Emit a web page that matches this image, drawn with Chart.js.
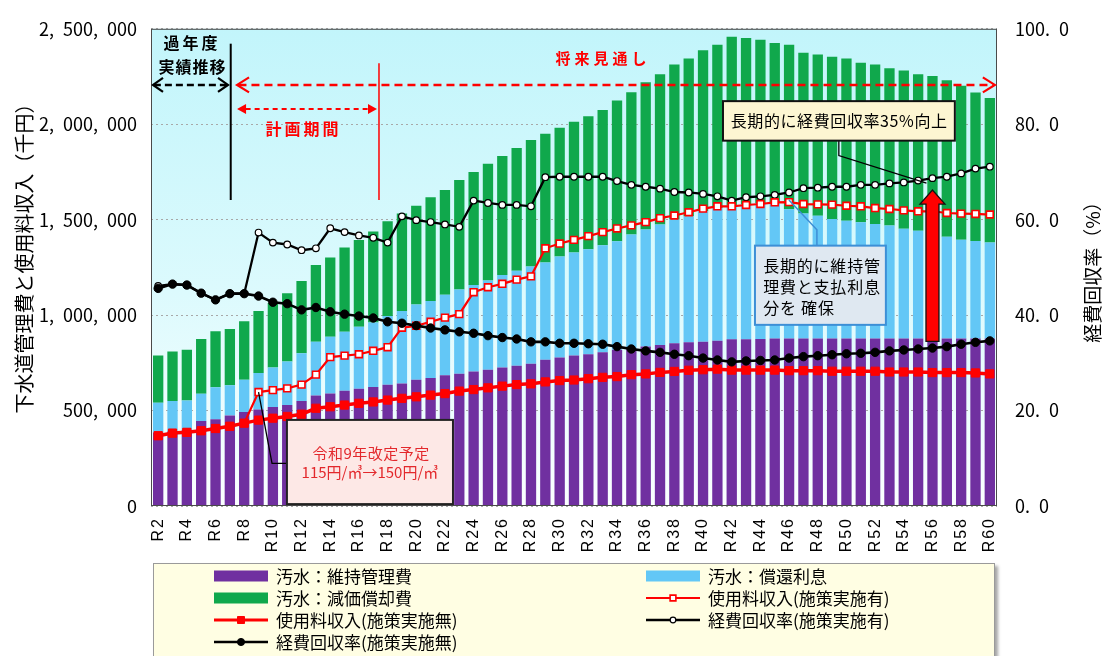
<!DOCTYPE html>
<html><head><meta charset="utf-8">
<script src="https://cdn.jsdelivr.net/npm/chart.js@4.4.1/dist/chart.umd.min.js"></script>
<style>html,body{margin:0;padding:0;background:#fff;}#wrap{width:1103px;height:656px;position:relative;overflow:hidden;}</style>
</head><body><div id="wrap"><canvas id="c" width="1103" height="656"></canvas></div>
<script>
const categories = ['R2','R3','R4','R5','R6','R7','R8','R9','R10','R11','R12','R13','R14','R15','R16','R17','R18','R19','R20','R21','R22','R23','R24','R25','R26','R27','R28','R29','R30','R31','R32','R33','R34','R35','R36','R37','R38','R39','R40','R41','R42','R43','R44','R45','R46','R47','R48','R49','R50','R51','R52','R53','R54','R55','R56','R57','R58','R59','R60'];
const xTickLabels = ['R2','R4','R6','R8','R10','R12','R14','R16','R18','R20','R22','R24','R26','R28','R30','R32','R34','R36','R38','R40','R42','R44','R46','R48','R50','R52','R54','R56','R58','R60'];
// 汚水：維持管理費（千円）
const maintenance = [385000,392000,398000,445000,455000,474000,492000,505000,519000,529000,
 550000,579000,590000,604000,614000,623000,635000,642000,662000,671000,
 685000,693000,705000,714000,726000,735000,745000,766000,778000,788000,
 795000,806000,818000,826000,835000,844000,852000,858000,861000,866000,
 873000,874000,875000,877000,877000,877000,877000,877000,877000,877000,
 877000,877000,877000,877000,877000,877000,877000,877000,877000];
// 汚水：償還利息
const interest = [156000,158000,155000,143000,167000,159000,170000,192000,207000,228000,
 250000,282000,297000,309000,325000,338000,361000,380000,393000,403000,
 422000,441000,453000,467000,484000,498000,510000,510000,529000,540000,
 550000,560000,569000,597000,614000,631000,649000,660000,683000,695000,
 700000,705000,712000,710000,678000,655000,643000,627000,617000,610000,
 600000,592000,576000,565000,552000,534000,518000,511000,503000];
// 汚水：減価償却費
const depreciation = [247000,259000,265000,287000,294000,294000,306000,325000,337000,358000,
 379000,401000,415000,441000,455000,477000,496000,510000,518000,543000,
 549000,574000,592000,612000,624000,643000,662000,674000,674000,685000,
 697000,709000,738000,745000,771000,787000,812000,827000,844000,856000,
 886000,873000,856000,839000,862000,842000,845000,849000,851000,835000,
 836000,824000,829000,820000,824000,819000,806000,778000,757000];
// 使用料収入(施策実施有)
const feeWithPolicy = [368000,382000,386000,394000,406000,418000,434000,597000,607000,616000,
 636000,688000,780000,788000,795000,813000,832000,934000,944000,965000,
 987000,1005000,1120000,1146000,1164000,1186000,1203000,1350000,1375000,1394000,
 1414000,1435000,1454000,1470000,1487000,1508000,1522000,1539000,1558000,1570000,
 1570000,1577000,1582000,1591000,1592000,1582000,1580000,1579000,1573000,1570000,
 1561000,1556000,1549000,1544000,1544000,1535000,1532000,1530000,1527000];
// 使用料収入(施策実施無)
const feeWithoutPolicy = [368000,382000,386000,394000,406000,418000,434000,450000,460000,469000,
 481000,512000,520000,529000,538000,545000,555000,564000,572000,581000,
 589000,602000,610000,619000,628000,636000,640000,650000,657000,660000,
 667000,674000,678000,688000,692000,700000,705000,711000,714000,717000,
 712000,712000,712000,712000,709000,709000,709000,706000,706000,706000,
 706000,702000,702000,702000,699000,699000,699000,697000,692000];
// 経費回収率(施策実施有) %
const recoveryWithPolicy = [46.1,46.5,46.3,44.6,43.2,44.5,44.5,57.3,55.2,54.8,
 53.6,54.0,58.2,57.4,56.7,56.2,55.2,60.7,59.9,59.5,
 59.0,58.5,64.0,63.5,63.1,63.1,62.8,68.9,69.0,69.0,
 69.0,69.0,68.1,67.3,66.9,66.5,65.8,65.7,65.4,64.9,
 64.0,64.7,64.9,65.2,65.7,66.6,66.7,66.9,66.9,67.3,
 67.3,67.6,67.8,68.2,68.7,69.0,69.7,70.7,71.1];
// 経費回収率(施策実施無) %
const recoveryWithoutPolicy = [45.6,46.5,46.3,44.6,43.2,44.5,44.5,44.0,42.7,42.4,
 41.1,41.6,40.7,40.2,39.8,39.4,38.6,38.3,37.8,37.3,
 36.9,36.5,36.2,35.7,35.3,35.0,34.4,34.4,34.1,34.1,
 34.0,33.9,33.4,32.9,32.5,32.2,31.8,31.5,31.0,30.6,
 30.2,30.4,30.5,30.6,31.0,31.3,31.5,31.7,31.9,32.0,
 32.2,32.5,32.7,32.9,33.1,33.4,33.9,34.3,34.6];
const leftTicks = [0,500000,1000000,1500000,2000000,2500000];
const rightTicks = [0,20,40,60,80,100];

const JP = "'Noto Sans CJK JP','Noto Sans',sans-serif";
const C = {purple:'#7030a0', blue:'#63c7f6', green:'#10a84c', red:'#ff0000', black:'#000000'};

function spaced(ctx, text, cx, cy, sp, align) {
  const ch = [...text];
  const w = ch.map(c => ctx.measureText(c).width);
  const total = w.reduce((a,b)=>a+b,0) + sp*(ch.length-1);
  let x = align === 'left' ? cx : (align === 'right' ? cx - total : cx - total/2);
  ctx.textAlign = 'left'; ctx.textBaseline = 'middle';
  ch.forEach((c,i)=>{ ctx.fillText(c, x, cy); x += w[i] + sp; });
}
function chevron(ctx, x, y, dir, len, half) {
  ctx.beginPath();
  ctx.moveTo(x + dir*len, y - half); ctx.lineTo(x, y); ctx.lineTo(x + dir*len, y + half);
  ctx.stroke();
}
function tri(ctx, x, y, dir, len, half) {
  ctx.beginPath();
  ctx.moveTo(x, y); ctx.lineTo(x + dir*len, y - half); ctx.lineTo(x + dir*len, y + half);
  ctx.closePath(); ctx.fill();
}

const deco = {
  id: 'deco',
  beforeDraw(chart) {
    const {ctx, chartArea: a} = chart;
    ctx.save();
    ctx.fillStyle = '#fff'; ctx.fillRect(0, 0, chart.width, chart.height);
    const g = ctx.createLinearGradient(0, a.top, 0, a.bottom);
    g.addColorStop(0, '#c2f5fb'); g.addColorStop(0.55, '#dcfafd'); g.addColorStop(1, '#fbffff');
    ctx.fillStyle = g; ctx.fillRect(a.left, a.top, a.right - a.left, a.bottom - a.top);
    ctx.restore();
  },
  afterDraw(chart) {
    const {ctx, chartArea: a} = chart;
    const xs = chart.scales.x, yl = chart.scales.yL, yr = chart.scales.yR;
    const X = i => xs.getPixelForValue(i);
    const YL = v => yl.getPixelForValue(v);
    const YR = v => yr.getPixelForValue(v);
    ctx.save();
    // plot border
    ctx.strokeStyle = '#4a4a4a'; ctx.lineWidth = 1;
    ctx.strokeRect(a.left + 0.5, a.top + 0.5, a.right - a.left - 1, a.bottom - a.top - 1);

    // x tick labels (rotated, letter-spaced)
    ctx.fillStyle = '#000'; ctx.font = "16px 'Liberation Sans',Arial,sans-serif";
    categories.forEach((c, i) => {
      if (!xTickLabels.includes(c)) return;
      ctx.save(); ctx.translate(X(i), a.bottom + 13); ctx.rotate(-Math.PI/2);
      spaced(ctx, c, 0, 0, 2, 'right'); ctx.restore();
    });

    // axis titles
    const midY = (a.top + a.bottom) / 2;
    ctx.fillStyle = '#000';
    ctx.save(); ctx.translate(24, midY - 14); ctx.rotate(-Math.PI/2);
    ctx.font = `20px ${JP}`; ctx.textAlign = 'center'; ctx.textBaseline = 'middle';
    ctx.fillText('下水道管理費と使用料収入（千円）', 0, 0); ctx.restore();
    ctx.save(); ctx.translate(1093, midY); ctx.rotate(-Math.PI/2);
    ctx.font = `19px ${JP}`; ctx.textAlign = 'center'; ctx.textBaseline = 'middle';
    ctx.fillText('経費回収率（%）', 0, 0); ctx.restore();

    // past / future labels
    ctx.fillStyle = '#000'; ctx.font = `bold 16px ${JP}`;
    spaced(ctx, '過年度', X(2.25), YL(2425000), 3);
    spaced(ctx, '実績推移', X(2.36), YL(2298000), 1);
    ctx.strokeStyle = '#000'; ctx.lineWidth = 2.5;
    const yArr = YL(2206000);
    ctx.setLineDash([7,4]);
    ctx.beginPath(); ctx.moveTo(X(-0.3), yArr); ctx.lineTo(X(4.85), yArr); ctx.stroke();
    ctx.setLineDash([]); ctx.lineWidth = 2.2;
    chevron(ctx, X(-0.36), yArr, 1, 10, 7); chevron(ctx, X(4.87), yArr, -1, 10, 7);
    ctx.lineWidth = 2;
    ctx.beginPath(); ctx.moveTo(X(5.06), YL(2422000)); ctx.lineTo(X(5.06), YL(1603000)); ctx.stroke();

    ctx.strokeStyle = C.red; ctx.fillStyle = C.red; ctx.lineWidth = 2.5;
    ctx.setLineDash([8,5]);
    ctx.beginPath(); ctx.moveTo(X(5.6), yArr); ctx.lineTo(X(58.25), yArr); ctx.stroke();
    ctx.setLineDash([]); ctx.lineWidth = 2.2;
    chevron(ctx, X(5.5), yArr, 1, 12, 7.5); chevron(ctx, X(58.35), yArr, -1, 12, 7.5);
    ctx.font = `bold 15px ${JP}`;
    spaced(ctx, '将来見通し', X(30.88), YL(2347000), 4);
    const yPlan = YL(2080000);
    ctx.lineWidth = 2; ctx.setLineDash([5,4]);
    ctx.beginPath(); ctx.moveTo(X(6.1), yPlan); ctx.lineTo(X(14.7), yPlan); ctx.stroke();
    ctx.setLineDash([]);
    tri(ctx, X(5.5), yPlan, 1, 9, 5); tri(ctx, X(15.26), yPlan, -1, 9, 5);
    ctx.font = `bold 16px ${JP}`;
    spaced(ctx, '計画期間', X(10.03), YL(1976000), 3);
    ctx.lineWidth = 1.5;
    ctx.beginPath(); ctx.moveTo(X(15.4), YL(2319000)); ctx.lineTo(X(15.4), YL(1603000)); ctx.stroke();

    // Box 1
    ctx.strokeStyle = '#000'; ctx.lineWidth = 1.3;
    ctx.beginPath(); ctx.moveTo(X(7), YL(feeWithPolicy[7])); ctx.lineTo(X(7.94), YL(223000)); ctx.lineTo(X(8.98), YL(223000)); ctx.stroke();
    let bx = X(8.98), by = YL(451000), bw = X(20.56) - bx, bh = YL(10000) - by;
    ctx.fillStyle = '#fde8e6'; ctx.fillRect(bx, by, bw, bh);
    ctx.strokeStyle = '#222'; ctx.lineWidth = 2; ctx.strokeRect(bx, by, bw, bh);
    ctx.fillStyle = '#e3282c'; ctx.font = `15px ${JP}`;
    spaced(ctx, '令和9年改定予定', X(14.84), YL(275000), 0.5);
    spaced(ctx, '115円/㎥→150円/㎥', X(14.77), YL(176000), 0);

    // Box 2
    ctx.strokeStyle = '#000'; ctx.lineWidth = 1.3;
    ctx.beginPath(); ctx.moveTo(X(47.47), YL(1914000)); ctx.lineTo(X(47.47), YL(1836000)); ctx.lineTo(X(53.58), YL(1691000)); ctx.stroke();
    bx = X(39.39); by = YL(2121000); bw = X(55.56) - bx; bh = YL(1914000) - by;
    ctx.fillStyle = '#fdf6d2'; ctx.fillRect(bx, by, bw, bh);
    ctx.strokeStyle = '#111'; ctx.lineWidth = 2; ctx.strokeRect(bx, by, bw, bh);
    ctx.fillStyle = '#000'; ctx.font = `16px ${JP}`;
    spaced(ctx, '長期的に経費回収率35%向上', X(47.47), YL(2018000), 0.6);

    // Box 3
    ctx.strokeStyle = '#3d8fd6'; ctx.lineWidth = 1.5;
    ctx.beginPath(); ctx.moveTo(X(43.99), YL(1603000)); ctx.lineTo(X(45.94), YL(1447000)); ctx.lineTo(X(45.94), YL(1364000)); ctx.stroke();
    bx = X(41.62); by = YL(1364000); bw = X(50.75) - bx; bh = YL(949000) - by;
    ctx.fillStyle = '#dfe8f1'; ctx.fillRect(bx, by, bw, bh);
    ctx.strokeStyle = '#3d8fd6'; ctx.lineWidth = 2; ctx.strokeRect(bx, by, bw, bh);
    ctx.fillStyle = '#000'; ctx.font = `16px ${JP}`;
    spaced(ctx, '長期的に維持管', X(42.19), YL(1260000), 0.8, 'left');
    spaced(ctx, '理費と支払利息', X(42.19), YL(1146000), 0.8, 'left');
    spaced(ctx, '分を 確保', X(42.19), YL(1037000), 0.8, 'left');

    // Big red arrow (R56)
    const ax = X(54), yb = YR(34.5), yt = YR(66.2);
    const sw = 6.5, hw = 12.5, hh = 14;
    ctx.beginPath();
    ctx.moveTo(ax - sw, yb); ctx.lineTo(ax - sw, yt + hh); ctx.lineTo(ax - hw, yt + hh);
    ctx.lineTo(ax, yt); ctx.lineTo(ax + hw, yt + hh); ctx.lineTo(ax + sw, yt + hh); ctx.lineTo(ax + sw, yb);
    ctx.closePath();
    ctx.fillStyle = '#ff0000'; ctx.fill();
    ctx.strokeStyle = '#111'; ctx.lineWidth = 1.3; ctx.stroke();

    // Legend
    const lx = 153, ly = 563, lw = 842, lh = 100;
    ctx.save();
    ctx.shadowColor = 'rgba(0,0,0,0.35)'; ctx.shadowOffsetX = 3; ctx.shadowOffsetY = 3; ctx.shadowBlur = 3;
    ctx.fillStyle = '#fffee3'; ctx.fillRect(lx, ly, lw, lh);
    ctx.restore();
    ctx.strokeStyle = '#9a9a9a'; ctx.lineWidth = 1; ctx.strokeRect(lx + 0.5, ly + 0.5, lw - 1, lh);
    const ds = chart.data.datasets;
    const byLabel = l => ds.find(d => d.label === l);
    const items = [
      ['汚水：維持管理費', 0, 0], ['汚水：償還利息', 1, 0], ['汚水：減価償却費', 0, 1],
      ['使用料収入(施策実施有)', 1, 1], ['使用料収入(施策実施無)', 0, 2],
      ['経費回収率(施策実施有)', 1, 2], ['経費回収率(施策実施無)', 0, 3]
    ];
    const colX = [214, 646], rowY = [576, 598, 620, 642];
    items.forEach(([label, c, r]) => {
      const d = byLabel(label); const x0 = colX[c], y0 = rowY[r];
      if (d.type === 'line') {
        ctx.strokeStyle = d.borderColor; ctx.lineWidth = Math.min(d.borderWidth, 3);
        ctx.beginPath(); ctx.moveTo(x0, y0); ctx.lineTo(x0 + 54, y0); ctx.stroke();
        const rad = d.pointRadius * 0.85;
        ctx.fillStyle = d.pointBackgroundColor; ctx.strokeStyle = d.pointBorderColor; ctx.lineWidth = d.pointBorderWidth;
        ctx.beginPath();
        if (d.pointStyle === 'rect') { const s = rad * Math.SQRT1_2; ctx.rect(x0 + 27 - s, y0 - s, 2*s, 2*s); }
        else ctx.arc(x0 + 27, y0, rad, 0, Math.PI*2);
        ctx.fill(); ctx.stroke();
      } else {
        ctx.fillStyle = d.backgroundColor; ctx.fillRect(x0, y0 - 5.5, 54, 11);
      }
      ctx.fillStyle = '#000'; ctx.font = `17px ${JP}`; ctx.textAlign = 'left'; ctx.textBaseline = 'middle';
      ctx.fillText(label, x0 + 62, y0 + 1);
    });
    ctx.restore();
  }
};

const barCommon = {type:'bar', yAxisID:'yL', stack:'cost', barPercentage:0.72, categoryPercentage:1.0, order:10, borderWidth:0};
new Chart(document.getElementById('c'), {
  data: {
    labels: categories,
    datasets: [
      {type:'line', label:'使用料収入(施策実施無)', data:feeWithoutPolicy, yAxisID:'yL', stack:'s1', order:1,
       borderColor:C.red, borderWidth:3.5, pointStyle:'rect', pointRadius:5.8, pointBackgroundColor:C.red, pointBorderColor:C.red, pointBorderWidth:1, tension:0},
      {type:'line', label:'経費回収率(施策実施無)', data:recoveryWithoutPolicy, yAxisID:'yR', order:0,
       borderColor:C.black, borderWidth:2.6, pointStyle:'circle', pointRadius:4.2, pointBackgroundColor:C.black, pointBorderColor:C.black, pointBorderWidth:1, tension:0},
      {type:'line', label:'使用料収入(施策実施有)', data:feeWithPolicy, yAxisID:'yL', stack:'s2', order:2,
       borderColor:C.red, borderWidth:2.2, pointStyle:'rect', pointRadius:4.8, pointBackgroundColor:'#ffffff', pointBorderColor:C.red, pointBorderWidth:1.6, tension:0},
      {type:'line', label:'経費回収率(施策実施有)', data:recoveryWithPolicy, yAxisID:'yR', order:3,
       borderColor:C.black, borderWidth:2.3, pointStyle:'circle', pointRadius:3.3, pointBackgroundColor:'#ffffff', pointBorderColor:C.black, pointBorderWidth:1.2, tension:0},
      Object.assign({label:'汚水：維持管理費', data:maintenance, backgroundColor:C.purple}, barCommon),
      Object.assign({label:'汚水：償還利息', data:interest, backgroundColor:C.blue}, barCommon),
      Object.assign({label:'汚水：減価償却費', data:depreciation, backgroundColor:C.green}, barCommon)
    ]
  },
  options: {
    responsive:false, animation:false, devicePixelRatio:1,
    layout:{padding:{top:24, bottom:100, left:0, right:0}},
    plugins:{legend:{display:false}, tooltip:{enabled:false}},
    scales:{
      x:{stacked:true, offset:true, grid:{display:false, drawTicks:false}, border:{display:false},
         ticks:{autoSkip:false, minRotation:90, maxRotation:90, padding:5, color:'rgba(0,0,0,0)', font:{size:15},
                callback:(v,i)=> xTickLabels.includes(categories[i]) ? categories[i] : ''},
         afterFit:s=>{s.height = 50;}},
      yL:{type:'linear', position:'left', stacked:true, min:0, max:2500000,
          afterBuildTicks:s=>{s.ticks = leftTicks.map(v=>({value:v}));},
          grid:{color:'#a8a8a8', lineWidth:1, drawTicks:false}, border:{display:false, dash:[2,3]},
          ticks:{padding:14, color:'#000', font:{family:JP, size:18}, callback:v=>v.toLocaleString('en-US').replace(/,/g, ',\u2002')},
          afterFit:s=>{s.width = 151;}},
      yR:{type:'linear', position:'right', min:0, max:100,
          afterBuildTicks:s=>{s.ticks = rightTicks.map(v=>({value:v}));},
          grid:{display:false, drawTicks:false}, border:{display:false},
          ticks:{padding:18, color:'#000', font:{family:JP, size:18}, callback:v=>v.toFixed(1).replace('.', '.\u2002')},
          afterFit:s=>{s.width = 106;}}
    }
  },
  plugins:[deco]
});
</script></body></html>
